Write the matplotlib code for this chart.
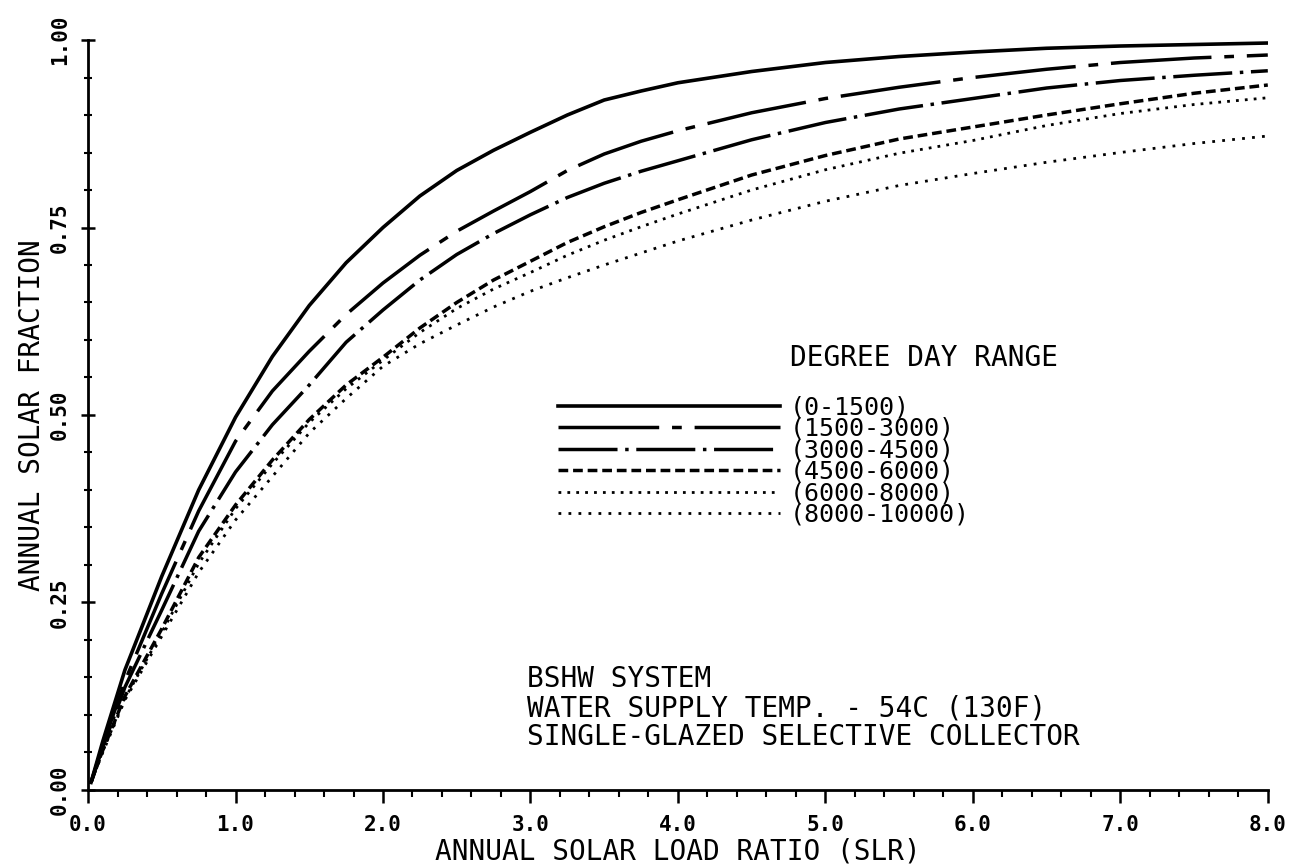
import matplotlib
matplotlib.use("Agg")
from matplotlib import pyplot as plt
from matplotlib.ticker import MultipleLocator, FixedLocator


slr = [0.02, 0.1, 0.25, 0.5, 0.75, 1.0, 1.25, 1.5, 1.75, 2.0, 2.25, 2.5, 2.75,
       3.0, 3.25, 3.5, 3.75, 4.0, 4.5, 5.0, 5.5, 6.0, 6.5, 7.0, 7.5, 8.0]

dd_0_1500 = [0.01, 0.065, 0.16, 0.285, 0.40, 0.497, 0.578, 0.646, 0.703, 0.75,
             0.792, 0.826, 0.853, 0.877, 0.90, 0.92, 0.932, 0.943, 0.958,
             0.970, 0.978, 0.984, 0.989, 0.992, 0.994, 0.996]
dd_1500_3000 = [0.01, 0.06, 0.145, 0.262, 0.372, 0.465, 0.532, 0.585, 0.634,
                0.676, 0.713, 0.745, 0.772, 0.798, 0.826, 0.848, 0.865, 0.879,
                0.903, 0.922, 0.937, 0.950, 0.961, 0.970, 0.976, 0.980]
dd_3000_4500 = [0.01, 0.057, 0.137, 0.24, 0.345, 0.424, 0.487, 0.54, 0.597,
                0.64, 0.68, 0.714, 0.742, 0.767, 0.79, 0.809, 0.825, 0.839,
                0.867, 0.89, 0.908, 0.922, 0.936, 0.946, 0.953, 0.959]
dd_4500_6000 = [0.01, 0.053, 0.125, 0.215, 0.31, 0.38, 0.44, 0.494, 0.54,
                0.577, 0.616, 0.65, 0.68, 0.705, 0.73, 0.751, 0.77, 0.787,
                0.82, 0.846, 0.868, 0.884, 0.90, 0.915, 0.929, 0.94]
dd_6000_8000 = [0.01, 0.052, 0.122, 0.21, 0.302, 0.375, 0.435, 0.49, 0.535,
                0.573, 0.61, 0.642, 0.668, 0.69, 0.713, 0.733, 0.751, 0.768,
                0.80, 0.827, 0.849, 0.866, 0.886, 0.902, 0.914, 0.923]
dd_8000_10000 = [0.01, 0.05, 0.12, 0.205, 0.29, 0.36, 0.418, 0.476, 0.522,
                 0.565, 0.595, 0.62, 0.644, 0.665, 0.683, 0.70, 0.716, 0.732,
                 0.76, 0.785, 0.806, 0.822, 0.837, 0.85, 0.862, 0.872]

range_labels = ["(0-1500)", "(1500-3000)", "(3000-4500)",
                "(4500-6000)", "(6000-8000)", "(8000-10000)"]

x_ticks = [0, 1, 2, 3, 4, 5, 6, 7, 8]
x_ticklabels = ["0.0", "1.0", "2.0", "3.0", "4.0", "5.0", "6.0", "7.0", "8.0"]
y_ticks = [0.0, 0.25, 0.5, 0.75, 1.0]
y_ticklabels = ["0.00", "0.25", "0.50", "0.75", "1.00"]

notes = ["BSHW SYSTEM",
         "WATER SUPPLY TEMP. - 54C (130F)",
         "SINGLE-GLAZED SELECTIVE COLLECTOR"]


plt.rcParams['font.family'] = ['DejaVu Sans Mono', 'DejaVu Sans']

fig = plt.figure(figsize=(12.95, 8.68), dpi=100)
ax = fig.add_axes([0.068, 0.0899, 0.911, 0.864])

series = [dd_0_1500, dd_1500_3000, dd_3000_4500,
          dd_4500_6000, dd_6000_8000, dd_8000_10000]
styles = [
    ('-', 2.6),
    ((0, (29, 3.7, 2.8, 3.7)), 2.5),
    ((0, (17, 2.2, 1, 2.2)), 2.5),
    ((0, (2.8, 1.4)), 2.5),
    ((0, (1, 2.2)), 2.0),
    ((0, (1, 2.6)), 2.0),
]

lines = []
for ys, (ls, lw) in zip(series, styles):
    ln, = ax.plot(slr, ys, color='black', linestyle=ls, linewidth=lw)
    lines.append(ln)

ax.set_xlim(0, 8)
ax.set_ylim(0, 1.0)

for side in ['top', 'right']:
    ax.spines[side].set_visible(False)
for side in ['left', 'bottom']:
    ax.spines[side].set_linewidth(2)

ax.xaxis.set_major_locator(FixedLocator(x_ticks))
ax.set_xticklabels(x_ticklabels, fontweight='bold')
ax.xaxis.set_minor_locator(MultipleLocator(0.2))
ax.yaxis.set_major_locator(FixedLocator(y_ticks))
ax.set_yticklabels(y_ticklabels, rotation=90, va='center', fontweight='bold')
ax.yaxis.set_minor_locator(MultipleLocator(0.05))

ax.tick_params(axis='x', which='major', direction='out', length=9, width=1.8,
               labelsize=15, pad=9)
ax.tick_params(axis='x', which='minor', direction='out', length=5, width=1.5)
ax.tick_params(axis='y', which='major', direction='inout', length=10, width=1.8,
               labelsize=15, pad=8)
ax.tick_params(axis='y', which='minor', direction='inout', length=6, width=1.5)

ax.set_xlabel("ANNUAL SOLAR LOAD RATIO (SLR)", fontsize=20, labelpad=2)
ax.set_ylabel("ANNUAL SOLAR FRACTION", fontsize=20, labelpad=3)

# legend block
ax.text(0.595, 0.576, "DEGREE DAY RANGE", transform=ax.transAxes,
        fontsize=20, ha='left', va='center')
ax.legend(lines, range_labels, loc='upper left', bbox_to_anchor=(0.398, 0.526),
          frameon=False, fontsize=18, handlelength=8.9, handletextpad=0.4,
          labelspacing=-0.1, borderpad=0, borderaxespad=0)

ax.text(0.372, 0.109, "\n".join(notes), transform=ax.transAxes,
        fontsize=20, ha='left', va='center', linespacing=1.05)

fig.savefig("out.png", dpi=100)
